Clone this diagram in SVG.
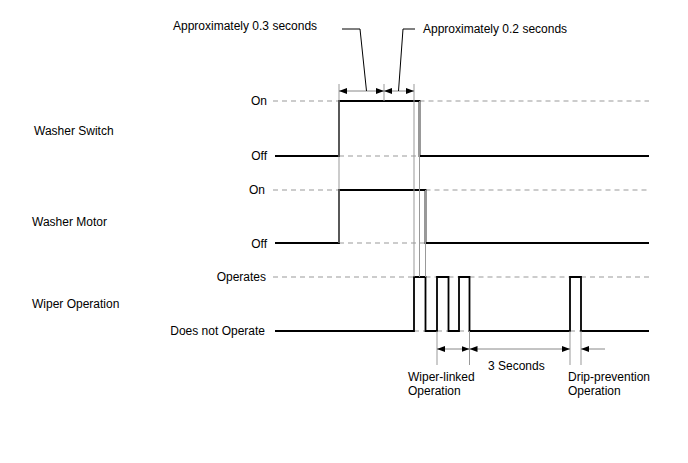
<svg xmlns="http://www.w3.org/2000/svg" width="688" height="463" viewBox="0 0 688 463">
<style>
text{font-family:"Liberation Sans",Arial,sans-serif;font-size:12px;fill:#000}
.r{text-anchor:end}
.sig{fill:none;stroke:#000;stroke-width:1.8}
.dash{fill:none;stroke:#999;stroke-width:1;stroke-dasharray:5,4}
.guide{fill:none;stroke:#999;stroke-width:1}
.dim{fill:none;stroke:#888;stroke-width:1}
.lead{fill:none;stroke:#000;stroke-width:1}
</style>
<defs>
<marker id="ah" markerUnits="userSpaceOnUse" markerWidth="9" markerHeight="7" refX="8" refY="3" orient="auto-start-reverse">
<path d="M0,0 L8,3 L0,6 z" fill="#000"/>
</marker>
</defs>
<rect width="688" height="463" fill="#fff"/>

<g id="washer-switch">
<text x="34" y="135">Washer Switch</text>
<text class="r" x="267" y="105">On</text>
<text class="r" x="267" y="160">Off</text>
<path class="dash" d="M273,101 H339 M419.5,101 H649 M339,156 H419.5"/>
<path class="sig" d="M275,156 H339 V101 H419.5 V156 H649"/>
</g>

<g id="washer-motor">
<text x="32" y="226">Washer Motor</text>
<text class="r" x="265" y="194">On</text>
<text class="r" x="267" y="248">Off</text>
<path class="dash" d="M273,190 H339 M425.5,190 H649 M339,243 H425.5"/>
<path class="sig" d="M275,243 H339 V190 H425.5 V243 H649"/>
</g>

<g id="wiper-operation">
<text x="32" y="308">Wiper Operation</text>
<text class="r" x="266" y="281">Operates</text>
<text class="r" x="265" y="335">Does not Operate</text>
<path class="dash" d="M273,277 H414 M425.5,277 H437 M448.5,277 H459 M469.5,277 H570 M581,277 H649 M414,331 H425.5 M437,331 H448.5 M459,331 H469.5 M570,331 H581"/>
<path class="sig" d="M275,331 H414 V277 H425.5 V331 H437 V277 H448.5 V331 H459 V277 H469.5 V331 H570 V277 H581 V331 H649"/>
</g>

<g id="connectors">
<path class="guide" d="M339,84 V243 M384,84 V101 M414,84 V277 M419.5,101 V277 M425.5,190 V277 M437,331 V365 M469.5,331 V365 M570,331 V365 M581,331 V365"/>
<path class="dim" d="M339,91 H384" marker-start="url(#ah)" marker-end="url(#ah)"/>
<path class="dim" d="M384,91 H414" marker-start="url(#ah)" marker-end="url(#ah)"/>
<path class="dim" d="M437,349 H469.5" marker-start="url(#ah)" marker-end="url(#ah)"/>
<path class="dim" d="M469.5,349 H570" marker-start="url(#ah)" marker-end="url(#ah)"/>
<path class="dim" d="M581,349 H605" marker-start="url(#ah)"/>
<path class="lead" d="M342,29 H360 L366.5,91"/>
<path class="lead" d="M415,29 H403 L398.5,91"/>
</g>

<g id="labels">
<text x="173" y="30">Approximately 0.3 seconds</text>
<text x="423" y="33">Approximately 0.2 seconds</text>
<text x="488" y="370">3 Seconds</text>
<text x="408" y="381">Wiper-linked</text>
<text x="408" y="395">Operation</text>
<text x="568" y="381">Drip-prevention</text>
<text x="568" y="395">Operation</text>
</g>
</svg>
